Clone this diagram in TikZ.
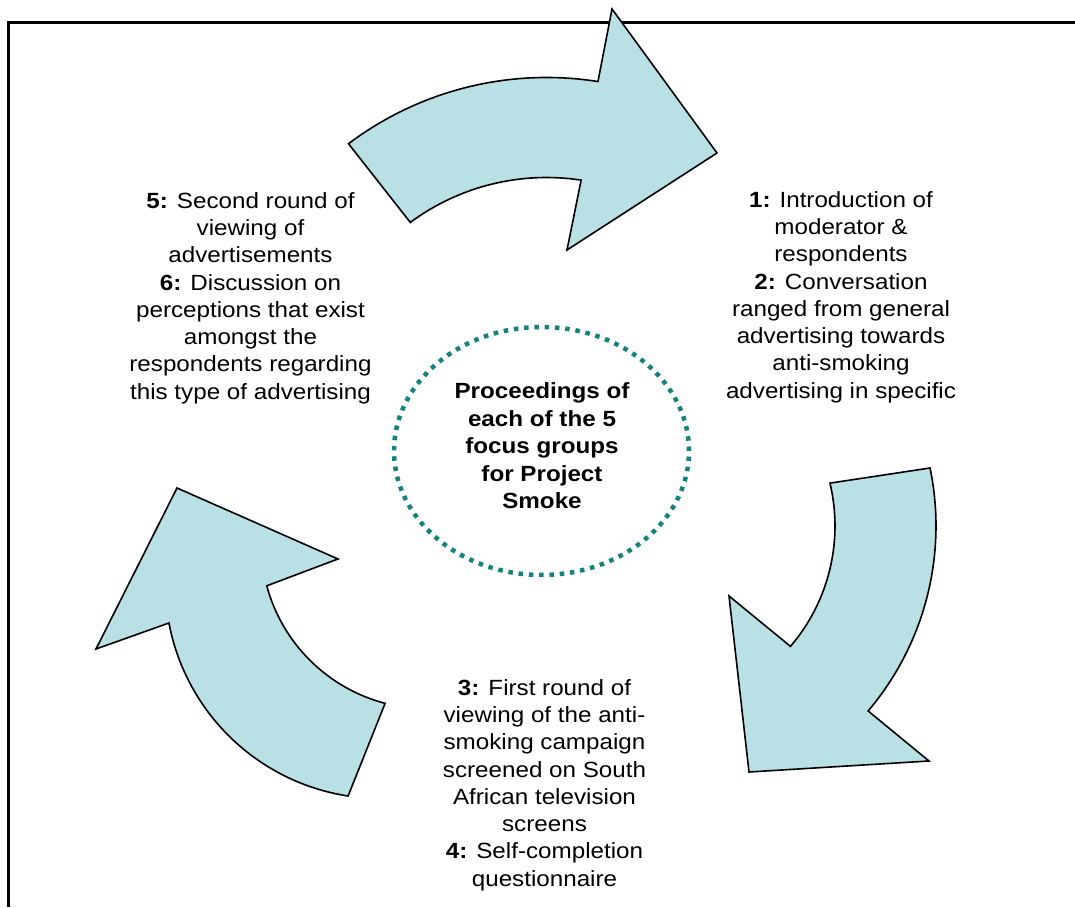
\documentclass[tikz,border=0pt]{standalone}
\usepackage{fontspec}
\setmainfont[FakeStretch=1.10]{Liberation Sans}
\usetikzlibrary{shapes.geometric}
\definecolor{arrowfill}{RGB}{185,224,228}
\definecolor{hubteal}{RGB}{20,130,125}
\begin{document}
\begin{tikzpicture}[x=1pt,y=1pt,
  bigarrow/.style={fill=arrowfill, draw=black, line width=1.6pt, line join=miter},
  steptext/.style={align=center, font=\fontsize{22}{27.3}\selectfont, inner sep=0pt},
  hubshape/.style={ellipse, draw=hubteal, line width=4.5pt, dash pattern=on 4.5pt off 5.8pt,
    minimum width=295pt, minimum height=248pt, inner sep=0pt},
  hubtext/.style={align=center, font=\fontsize{22}{27.5}\selectfont\bfseries, inner sep=0pt},
  framebox/.style={line width=2.4pt, draw=black}
]
\useasboundingbox (0,0) rectangle (1075,907);
% frame (top and left edges visible)
\coordinate (frameBL) at (8.5,0);
\coordinate (frameTL) at (8.5,884.5);
\coordinate (frameTR) at (1075,884.5);
\draw[framebox] (frameBL) -- (frameTL) -- (frameTR);

% centres of the arcs
\coordinate (Ctop) at (546.5,500.5);
\coordinate (Cright) at (650,381);
\coordinate (CleftO) at (380.7,324);
\coordinate (CleftI) at (427.3,364.5);

% heads
\coordinate (topA) at (612,898);
\coordinate (topB) at (717,754);
\coordinate (topC) at (567,657);
\coordinate (rightA) at (929,146);
\coordinate (rightB) at (749,135);
\coordinate (rightC) at (729,311);
\coordinate (leftA) at (96,258);
\coordinate (leftB) at (177,419);
\coordinate (leftC) at (338,348);

% top arrow
\draw[bigarrow] ([shift={(127:329)}]Ctop) arc[start angle=127, end angle=81.0, radius=329]
  -- (topA) -- (topB) -- (topC)
  -- ([shift={(81.3:229)}]Ctop) arc[start angle=81.3, end angle=126.5, radius=229] -- cycle;

% right arrow
\draw[bigarrow] ([shift={(11.7:286)}]Cright) arc[start angle=11.7, end angle=-40.3, radius=286]
  -- (rightA) -- (rightB) -- (rightC)
  -- ([shift={(-40.6:185)}]Cright) arc[start angle=-40.6, end angle=13.4, radius=185] -- cycle;

% left arrow
\draw[bigarrow] ([shift={(-98.7:215.5)}]CleftO) arc[start angle=-98.7, end angle=-169.3, radius=215.5]
  -- (leftA) -- (leftB) -- (leftC)
  -- ([shift={(-164.9:166.3)}]CleftI) arc[start angle=-164.9, end angle=-104.7, radius=166.3] -- cycle;

% hub
\node[hubshape] (hub) at (541.5,456) {};
\node[hubtext] (hublabel) at (542,461) {Proceedings of\\each of the 5\\focus groups\\for Project\\Smoke};

% step texts
\node[steptext] (steps12) at (841,610) {\textbf{1:} Introduction of\\moderator \&\\respondents\\\textbf{2:} Conversation\\ranged from general\\advertising towards\\anti-smoking\\advertising in specific};
\node[steptext] (steps34) at (544.5,122) {\textbf{3:} First round of\\viewing of the anti-\\smoking campaign\\screened on South\\African television\\screens\\\textbf{4:} Self-completion\\questionnaire};
\node[steptext] (steps56) at (250.5,609) {\textbf{5:} Second round of\\viewing of\\advertisements\\\textbf{6:} Discussion on\\perceptions that exist\\amongst the\\respondents regarding\\this type of advertising};
\end{tikzpicture}
\end{document}
